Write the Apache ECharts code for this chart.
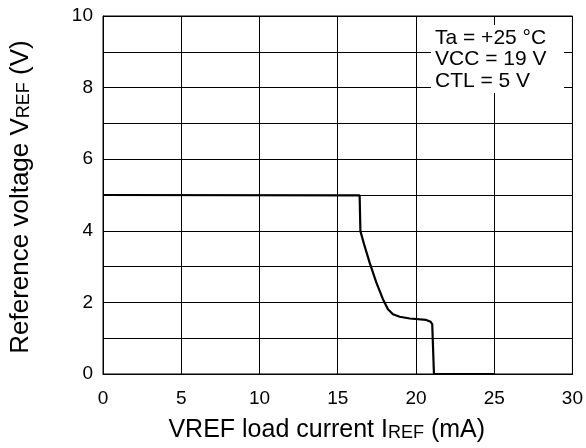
<!DOCTYPE html>
<html>
<head>
<meta charset="utf-8">
<script src="https://cdn.jsdelivr.net/npm/echarts@6/dist/echarts.min.js"></script>
<style>
html,body{margin:0;padding:0;background:#fff;}
#chart{width:586px;height:448px;}
</style>
</head>
<body>
<div id="chart"></div>
<script>
// Data
var loadCurrent = [0, 16.40, 16.45, 16.72, 17.04, 17.47, 17.89, 18.21, 18.53, 18.96, 19.60, 20.66, 20.94, 21.04, 21.15, 25.0];
var refVoltage  = [5.0, 4.99, 3.99, 3.57, 3.11, 2.55, 2.09, 1.81, 1.67, 1.60, 1.55, 1.51, 1.46, 1.39, 0, 0];
var xTicks = [0, 5, 10, 15, 20, 25, 30];
var yTickLabels = [0, 2, 4, 6, 8, 10];
var conditions = ['Ta = +25 °C', 'VCC = 19 V', 'CTL = 5 V'];

var font = '"Liberation Sans", Arial, Helvetica, sans-serif';
var pts = loadCurrent.map(function (x, i) { return [x, refVoltage[i]]; });

function nameRich(main, sub) {
  return {
    m: { fontFamily: font, fontSize: main, color: '#000', lineHeight: main + 2, verticalAlign: 'bottom' },
    s: { fontFamily: font, fontSize: sub, color: '#000', lineHeight: sub + 2, verticalAlign: 'bottom', padding: [0, 0, 1, 0] }
  };
}

var chart = echarts.init(document.getElementById('chart'));
chart.setOption({
  animation: false,
  backgroundColor: '#fff',
  grid: { left: 103, right: 13, top: 16, bottom: 73, show: true, borderColor: '#000', borderWidth: 1 },
  xAxis: {
    type: 'value', min: xTicks[0], max: xTicks[xTicks.length - 1], interval: 5,
    axisLine: { show: true, lineStyle: { color: '#000', width: 1 } },
    axisTick: { show: false },
    splitLine: { show: true, lineStyle: { color: '#000', width: 1 } },
    axisLabel: { color: '#000', fontFamily: font, fontSize: 19, margin: 15 },
    name: '{m|VREF load current I}{s|REF}{m| (mA)}',
    nameLocation: 'middle', nameGap: 42,
    nameTextStyle: { padding: [0, 22, 0, 0], rich: nameRich(25, 18) }
  },
  yAxis: {
    type: 'value', min: 0, max: 10, interval: 1,
    axisLine: { show: true, lineStyle: { color: '#000', width: 1 } },
    axisTick: { show: false },
    splitLine: { show: true, lineStyle: { color: '#000', width: 1 } },
    axisLabel: {
      color: '#000', fontFamily: font, fontSize: 19, margin: 10,
      formatter: function (v) { return yTickLabels.indexOf(v) >= 0 ? String(v) : ''; }
    },
    name: '{m|Reference voltage V}{s|REF}{m| (V)}',
    nameLocation: 'middle', nameGap: 69,
    nameTextStyle: { padding: [0, 4, 0, 0], rich: nameRich(26, 18) }
  },
  graphic: [
    { type: 'rect', left: 431, top: 25, shape: { width: 133, height: 68 }, style: { fill: '#fff' }, z: 10 },
    { type: 'text', left: 435, top: 27, z: 11,
      style: { text: conditions.join('\n'), fontFamily: font, fontSize: 21, lineHeight: 21.5, fill: '#000' } }
  ],
  series: [{
    type: 'line', data: pts, showSymbol: false, symbol: 'none',
    lineStyle: { color: '#000', width: 2.2 }, z: 5
  }]
});
</script>
</body>
</html>
